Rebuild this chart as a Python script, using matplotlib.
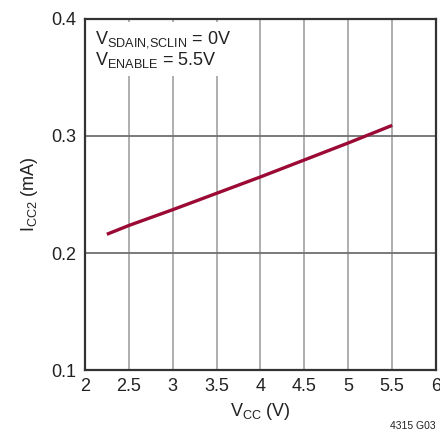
import matplotlib
matplotlib.use("Agg")
import matplotlib.pyplot as plt
from matplotlib import font_manager

# 数据
vcc = [2.25, 2.5, 3.0, 3.5, 4.0, 4.5, 5.0, 5.5]
icc2 = [0.216, 0.2235, 0.237, 0.251, 0.265, 0.2795, 0.294, 0.309]
x_ticks = [2, 2.5, 3, 3.5, 4, 4.5, 5, 5.5, 6]
x_labels = ["2", "2.5", "3", "3.5", "4", "4.5", "5", "5.5", "6"]
y_ticks = [0.1, 0.2, 0.3, 0.4]
y_labels = ["0.1", "0.2", "0.3", "0.4"]

names = {f.name for f in font_manager.fontManager.ttflist}
FONT = "Liberation Sans Narrow" if "Liberation Sans Narrow" in names else "Liberation Sans"
plt.rcParams["font.family"] = [FONT, "DejaVu Sans"]
plt.rcParams["mathtext.fontset"] = "custom"
plt.rcParams["mathtext.rm"] = FONT
plt.rcParams["mathtext.it"] = FONT
plt.rcParams["mathtext.default"] = "rm"

fig = plt.figure(figsize=(4.4, 4.38), dpi=100)
ax = fig.add_axes([0.193, 0.155, 0.798, 0.802])

ax.set_xlim(2, 6)
ax.set_ylim(0.1, 0.4)
ax.set_xticks(x_ticks)
ax.set_xticklabels(x_labels)
ax.set_yticks(y_ticks)
ax.set_yticklabels(y_labels)
ax.tick_params(length=0, labelsize=13, colors="#222222", pad=6)

for x in x_ticks[1:-1]:
    ax.axvline(x, color="#a8a8a8", lw=1.3, zorder=1)
for y in y_ticks[1:-1]:
    ax.axhline(y, color="#707070", lw=1.3, zorder=1)
for s in ax.spines.values():
    s.set_color("#333333")
    s.set_linewidth(1.6)

ax.plot(vcc, icc2, color="#9b0a35", lw=2.4, zorder=3, solid_capstyle="butt")

ax.text(0.03, 0.97,
        "V$_{SDAIN{,}SCLIN}$ = 0V\nV$_{ENABLE}$ = 5.5V",
        transform=ax.transAxes, ha="left", va="top", fontsize=13,
        color="#222222", linespacing=1.0, zorder=2,
        bbox=dict(facecolor="white", edgecolor="none", pad=4))

ax.set_xlabel("V$_{CC}$ (V)", fontsize=13, color="#222222", labelpad=4)
ax.set_ylabel("I$_{CC2}$ (mA)", fontsize=13, color="#222222", labelpad=8)

fig.text(0.99, 0.015, "4315 G03", ha="right", va="bottom", fontsize=7.5, color="#222222")

fig.savefig("out.png", dpi=100)
